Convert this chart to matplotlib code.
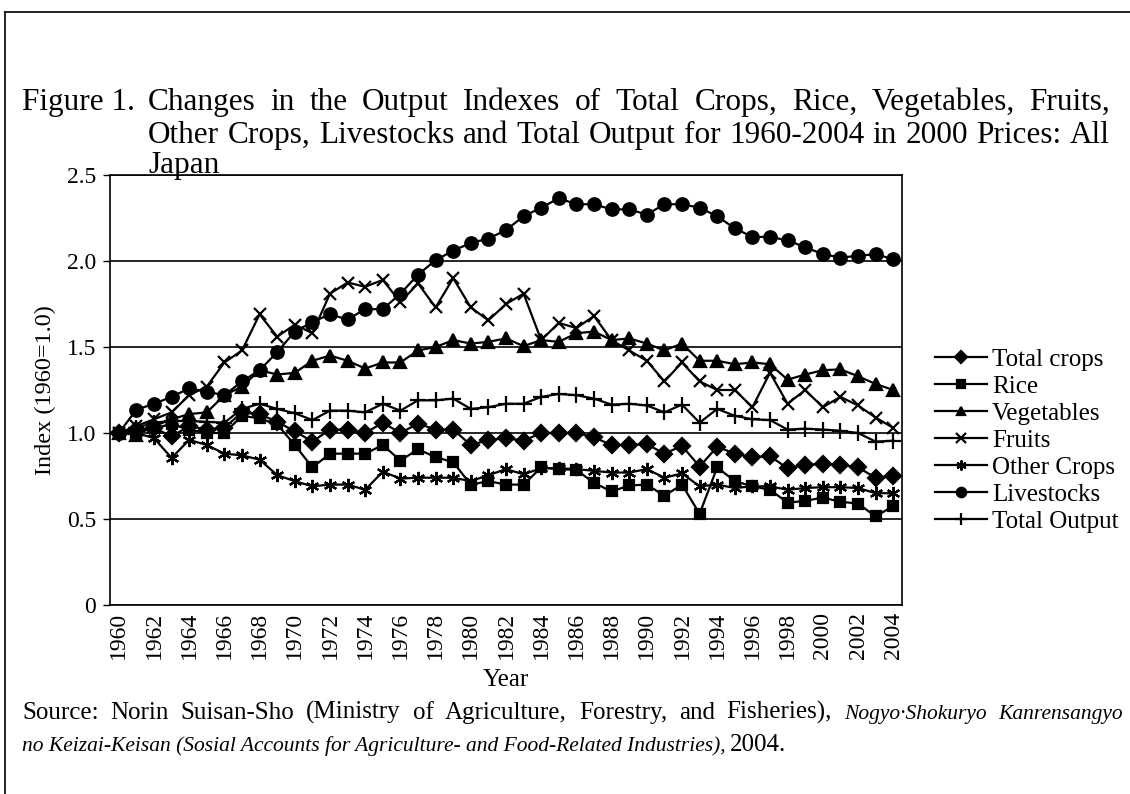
import numpy as np
import matplotlib
matplotlib.use("Agg")
import matplotlib.pyplot as plt
from matplotlib.lines import Line2D

plt.rcParams['font.family'] = ['Liberation Serif', 'DejaVu Serif']

# ------------------------------------------
# DATA
# ------------------------------------------
years = list(range(1960, 2005))

total_crops = [1.00, 1.02, 1.03, 0.98, 1.04, 1.02, 1.03, 1.12, 1.11, 1.065,
               1.01, 0.95, 1.02, 1.02, 1.00, 1.06, 1.00, 1.055, 1.02, 1.02,
               0.93, 0.96, 0.97, 0.955, 1.00, 1.00, 1.00, 0.975, 0.93, 0.93,
               0.935, 0.88, 0.925, 0.805, 0.92, 0.88, 0.86, 0.865, 0.795, 0.815,
               0.82, 0.815, 0.80, 0.74, 0.75]

rice = [1.00, 1.00, 1.03, 1.05, 1.02, 1.00, 1.00, 1.10, 1.085, 1.05,
        0.93, 0.80, 0.88, 0.88, 0.88, 0.93, 0.84, 0.905, 0.86, 0.83,
        0.70, 0.72, 0.70, 0.70, 0.80, 0.79, 0.785, 0.71, 0.66, 0.695,
        0.70, 0.635, 0.70, 0.53, 0.80, 0.72, 0.69, 0.67, 0.595, 0.605,
        0.625, 0.60, 0.59, 0.515, 0.575]

vegetables = [1.00, 0.99, 1.04, 1.08, 1.11, 1.12, 1.22, 1.27, 1.365, 1.34,
              1.35, 1.42, 1.45, 1.42, 1.375, 1.41, 1.41, 1.48, 1.50, 1.54,
              1.52, 1.53, 1.55, 1.505, 1.54, 1.53, 1.58, 1.59, 1.54, 1.55,
              1.52, 1.48, 1.52, 1.42, 1.42, 1.40, 1.41, 1.40, 1.31, 1.34,
              1.365, 1.37, 1.33, 1.285, 1.25]

fruits = [1.00, 1.04, 1.08, 1.12, 1.22, 1.27, 1.41, 1.48, 1.69, 1.56,
          1.63, 1.58, 1.81, 1.875, 1.85, 1.89, 1.76, 1.87, 1.73, 1.90,
          1.73, 1.655, 1.75, 1.81, 1.54, 1.64, 1.61, 1.68, 1.54, 1.48,
          1.42, 1.30, 1.41, 1.30, 1.25, 1.25, 1.15, 1.35, 1.17, 1.25,
          1.15, 1.21, 1.16, 1.09, 1.03]

other_crops = [1.00, 1.00, 0.97, 0.855, 0.96, 0.93, 0.88, 0.87, 0.845, 0.755,
               0.72, 0.69, 0.70, 0.70, 0.67, 0.775, 0.735, 0.74, 0.74, 0.74,
               0.72, 0.755, 0.79, 0.76, 0.795, 0.795, 0.79, 0.78, 0.77, 0.77,
               0.79, 0.74, 0.765, 0.69, 0.70, 0.68, 0.69, 0.69, 0.67, 0.68,
               0.685, 0.685, 0.68, 0.65, 0.65]

livestocks = [1.00, 1.135, 1.17, 1.21, 1.26, 1.24, 1.22, 1.30, 1.365, 1.47,
              1.59, 1.645, 1.69, 1.66, 1.72, 1.72, 1.81, 1.92, 2.005, 2.06,
              2.105, 2.13, 2.18, 2.26, 2.31, 2.365, 2.33, 2.33, 2.30, 2.30,
              2.27, 2.33, 2.33, 2.31, 2.26, 2.19, 2.14, 2.14, 2.12, 2.08,
              2.04, 2.02, 2.03, 2.04, 2.01]

total_output = [1.00, 1.03, 1.06, 1.07, 1.07, 1.065, 1.06, 1.14, 1.17, 1.14,
                1.115, 1.075, 1.13, 1.13, 1.12, 1.17, 1.13, 1.19, 1.19, 1.20,
                1.14, 1.15, 1.17, 1.17, 1.21, 1.227, 1.22, 1.20, 1.165, 1.17,
                1.16, 1.12, 1.165, 1.06, 1.14, 1.10, 1.08, 1.075, 1.02, 1.025,
                1.02, 1.013, 1.00, 0.95, 0.955]

series = [
    ("Total crops", total_crops, 'D', 8),
    ("Rice", rice, 's', 7.5),
    ("Vegetables", vegetables, '^', 8.5),
    ("Fruits", fruits, 'x', 9),
    ("Other Crops", other_crops, (6, 2, 0), 9.5),
    ("Livestocks", livestocks, 'o', 9),
    ("Total Output", total_output, '+', 11),
]

title_lines = [
    "Changes in the Output Indexes of Total Crops, Rice, Vegetables, Fruits,",
    "Other Crops, Livestocks and Total Output for 1960-2004 in 2000 Prices: All",
    "Japan",
]
source_roman = "Source: Norin Suisan-Sho (Ministry of Agriculture, Forestry, and Fisheries),"
source_italic1 = "Nogyo\u00b7Shokuryo Kanrensangyo"
source_italic2 = "no Keizai-Keisan (Sosial Accounts for Agriculture- and Food-Related Industries),"

W, H = 1130, 794

# ------------------------------------------
# PLOT
# ------------------------------------------
fig = plt.figure(figsize=(W / 100, H / 100), dpi=100)
ax = fig.add_axes([110 / W, 1 - 605 / H, (902 - 110) / W, (605 - 175) / H])

for name, vals, mk, ms in series:
    ax.plot(years, vals, color='black', lw=1.6, marker=mk, markersize=ms,
            markeredgewidth=1.6, label=name)

ax.set_xlim(1959.5, 2004.5)
ax.set_ylim(0, 2.5)
ax.set_yticks([0, 0.5, 1.0, 1.5, 2.0, 2.5])
ax.set_yticklabels(['0', '0.5', '1.0', '1.5', '2.0', '2.5'], fontsize=17)
ax.set_xticks(years[::2])
ax.set_xticklabels([str(y) for y in years[::2]], rotation=90, fontsize=17)
ax.tick_params(axis='x', length=0, pad=5)
ax.tick_params(axis='y', length=5, width=1, direction='out', pad=5)
ax.yaxis.grid(True, color='black', lw=1.2)
ax.set_axisbelow(True)
for s in ax.spines.values():
    s.set_linewidth(1.2)

ax.set_xlabel("Year", fontsize=18, labelpad=7)
ax.set_ylabel("Index (1960=1.0)", fontsize=17.5, labelpad=8)

leg = ax.legend(loc='upper left', bbox_to_anchor=(922 / W, 1 - 336 / H),
                bbox_transform=fig.transFigure, frameon=False, fontsize=18,
                handlelength=2.1, handletextpad=0.2, labelspacing=0.18,
                markerscale=0.75, borderpad=0)

renderer = fig.canvas.get_renderer()


def justify(pieces, x0, x1, y):
    # place words so that the line fills x0..x1 (pixels), baseline at y
    texts = [fig.text(0, 1 - y / H, w, va='baseline', **kw) for w, kw in pieces]
    widths = [t.get_window_extent(renderer).width for t in texts]
    gap = (x1 - x0 - sum(widths)) / max(len(texts) - 1, 1)
    x = x0
    for t, w in zip(texts, widths):
        t.set_x(x / W)
        x += w + gap


tkw = dict(fontsize=22.5)
fig.text(22 / W, 1 - 110 / H, "Figure 1.", va='baseline', **tkw)
justify([(w, tkw) for w in title_lines[0].split()], 148, 1110, 110)
justify([(w, tkw) for w in title_lines[1].split()], 148, 1110, 143)
fig.text(148 / W, 1 - 173 / H, title_lines[2], va='baseline', **tkw)

# source
rkw = dict(fontsize=18)
ikw = dict(fontsize=15.5, style='italic')
justify([(w, rkw) for w in source_roman.split()] +
        [(w, ikw) for w in source_italic1.split()], 22, 1123, 719)
t2 = fig.text(22 / W, 1 - 751 / H, source_italic2, va='baseline', **ikw)
bb2 = t2.get_window_extent(renderer)
fig.text((bb2.x1 + 4) / W, 1 - 751 / H, "2004.", va='baseline', **rkw)

# outer frame (top and left)
fig.add_artist(Line2D([5 / W, 1.0], [1 - 12 / H, 1 - 12 / H],
                      transform=fig.transFigure, color='black', lw=1.2))
fig.add_artist(Line2D([5 / W, 5 / W], [0.0, 1 - 12 / H],
                      transform=fig.transFigure, color='black', lw=1.2))

fig.savefig("out.png", dpi=100)
